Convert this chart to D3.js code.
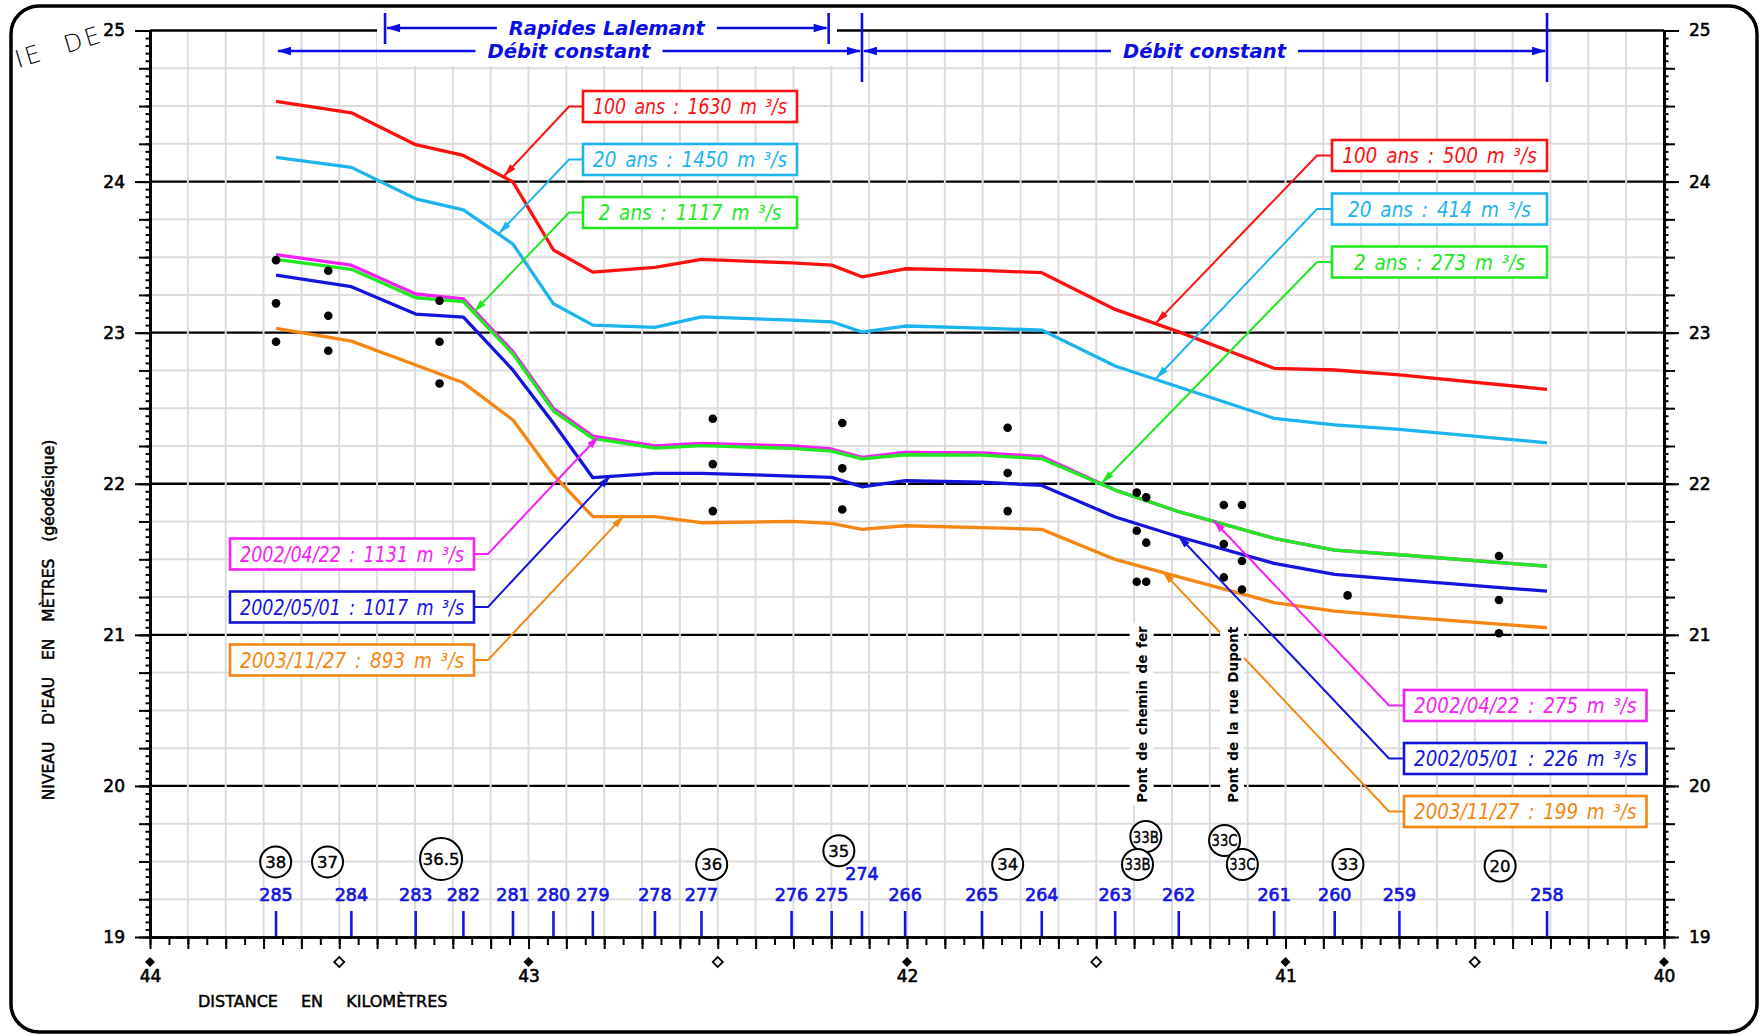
<!DOCTYPE html>
<html><head><meta charset="utf-8">
<script src="https://cdn.jsdelivr.net/npm/d3@7"></script>
<style>
html,body{margin:0;padding:0;background:#fff;}
svg{display:block;}
</style></head><body>
<svg id="c" width="1764" height="1036"></svg>
<script>
// ---------------- DATA ----------------
const sectionIds = [285,284,283,282,281,280,279,278,277,276,275,274,266,265,264,263,262,261,260,259,258];
const sectionKm  = [43.667,43.468,43.298,43.172,43.041,42.934,42.830,42.666,42.543,42.305,42.199,42.119,42.005,41.802,41.644,41.450,41.282,41.030,40.870,40.699,40.309];
const raisedSectionLabels = [274];

const level100ans = [24.531,24.455,24.244,24.173,23.997,23.547,23.401,23.432,23.485,23.462,23.447,23.370,23.423,23.412,23.397,23.154,23.005,22.764,22.753,22.720,22.625];
const level20ans  = [24.160,24.094,23.886,23.813,23.586,23.191,23.050,23.035,23.105,23.083,23.072,23.004,23.044,23.030,23.017,22.779,22.640,22.433,22.390,22.360,22.271];
const level2ans   = [23.485,23.419,23.231,23.205,22.858,22.481,22.300,22.236,22.252,22.234,22.216,22.165,22.192,22.190,22.165,21.958,21.815,21.639,21.561,21.530,21.454];
const level20020422 = [23.516,23.447,23.256,23.224,22.874,22.499,22.316,22.250,22.267,22.250,22.230,22.175,22.208,22.205,22.180,21.958,21.815,21.639,21.561,21.530,21.454];
const level20020501 = [23.381,23.304,23.123,23.103,22.752,22.400,22.040,22.069,22.069,22.051,22.042,21.980,22.020,22.010,21.989,21.780,21.649,21.473,21.400,21.365,21.289];
const level20031127 = [23.028,22.944,22.786,22.668,22.422,22.058,21.782,21.782,21.742,21.751,21.738,21.698,21.722,21.710,21.698,21.499,21.384,21.213,21.157,21.120,21.047];

const seriesNames = ["100 ans","20 ans","2 ans","2002/04/22","2002/05/01","2003/11/27"];
const labelsUpstream   = ["100 ans : 1630 m ³/s","20 ans : 1450 m ³/s","2 ans : 1117 m ³/s"];
const labelsDownstream = ["100 ans : 500 m ³/s","20 ans : 414 m ³/s","2 ans : 273 m ³/s"];
const labelsObsUp      = ["2002/04/22 : 1131 m ³/s","2002/05/01 : 1017 m ³/s","2003/11/27 : 893 m ³/s"];
const labelsObsDown    = ["2002/04/22 : 275 m ³/s","2002/05/01 : 226 m ³/s","2003/11/27 : 199 m ³/s"];

const obsKm = [43.667,43.529,43.235,42.513,42.171,41.734,41.393,41.368,41.163,41.115,40.836,40.436];
const obsLevels = [[23.480,23.194,22.940],[23.410,23.112,22.880],[23.211,22.940,22.664],[22.430,22.130,21.819],[22.402,22.102,21.830],[22.371,22.071,21.819],[21.941,21.689,21.351],[21.910,21.610,21.351],[21.859,21.601,21.380],[21.859,21.489,21.300],[21.261],[21.522,21.231,21.010]];

const stationLabels = ["38","37","36.5","36","35","34","33B","33B","33C","33C","33","20"];
const stationKm     = [43.668,43.531,43.231,42.516,42.180,41.734,41.369,41.391,41.161,41.114,40.835,40.433];
const stationLevel  = [19.497,19.497,19.516,19.480,19.571,19.480,19.665,19.480,19.639,19.480,19.480,19.470];

const bridgeNames = ["Pont de chemin de fer","Pont de la rue Dupont"];
const bridgeKm    = [41.380,41.141];
const bridgeBase  = 19.889;

const kmTicksMajor = [44,43,42,41,40];
const kmTicksHalf  = [43.5,42.5,41.5,40.5];
const levelTicks   = [19,20,21,22,23,24,25];

const rapidesKm = [43.379,42.207];
const constantReachKm = [43.667,42.119,40.309];

// ---------------- LAYOUT ----------------
const W=1764,H=1036;
const x = d3.scaleLinear().domain([44,40]).range([150,1664]);
const y = d3.scaleLinear().domain([19,25]).range([937,30.5]);
const colors = ["#ff1010","#1cb4ee","#22e822","#f520f5","#1414dc","#f58612"];
const annBlue = "#0c0ce6";
const FONT = "'DejaVu Sans', sans-serif";
const NARROW = "'Liberation Sans Narrow','DejaVu Sans Condensed','Roboto',sans-serif";

const series = seriesNames.map((n,i)=>({name:n,color:colors[i],values:[level100ans,level20ans,level2ans,level20020422,level20020501,level20031127][i]}));

function levelAt(vals, km){
  for(let i=0;i<sectionKm.length-1;i++){
    const a=sectionKm[i], b=sectionKm[i+1];
    if(km<=a && km>=b){ const t=(a-km)/(a-b); return vals[i]+(vals[i+1]-vals[i])*t; }
  }
  return vals[0];
}

const svg = d3.select("#c");
svg.append("rect").attr("width",W).attr("height",H).attr("fill","#fff");

// grid
const gGrid = svg.append("g");
const hGrid = d3.range(19*4+1, 25*4).map(i=>i/4).filter(v=>v%1!==0);
gGrid.selectAll("line.h").data(hGrid).join("line")
  .attr("x1",x(44)).attr("x2",x(40)).attr("y1",d=>y(d)).attr("y2",d=>y(d))
  .attr("stroke","#dcdcdc").attr("stroke-width",2);
gGrid.selectAll("line.m").data([20,21,22,23,24]).join("line")
  .attr("x1",x(44)).attr("x2",x(40)).attr("y1",d=>y(d)).attr("y2",d=>y(d))
  .attr("stroke","#000").attr("stroke-width",2.4);
const vGrid = d3.range(1,40).map(i=>40+i/10);
gGrid.selectAll("line.v").data(vGrid).join("line")
  .attr("x1",d=>x(d)).attr("x2",d=>x(d)).attr("y1",y(25)+1.5).attr("y2",y(19)-1.5)
  .attr("stroke","#dcdcdc").attr("stroke-width",2);

// masks at top (behind annotations)
svg.append("rect").attr("x",377).attr("y",22).attr("width",460).attr("height",44).attr("fill","#fff");
svg.append("rect").attr("x",1114).attr("y",32).attr("width",182).attr("height",34).attr("fill","#fff");

// top line (y=25) outside mask
svg.append("line").attr("x1",x(44)).attr("x2",377).attr("y1",y(25)).attr("y2",y(25)).attr("stroke","#000").attr("stroke-width",2.4);
svg.append("line").attr("x1",837).attr("x2",x(40)).attr("y1",y(25)).attr("y2",y(25)).attr("stroke","#000").attr("stroke-width",2.4);

// axes
function styleAxis(g){ g.select(".domain").attr("stroke","#000").attr("stroke-width",2.6); g.selectAll(".tick line").attr("stroke","#000").attr("stroke-width",2); }
const yMinor = d3.range(19*20,25*20+1).map(i=>i/20);
const yQuarter = d3.range(19*4,25*4+1).map(i=>i/4);
[[d3.axisLeft, x(44)],[d3.axisRight, x(40)]].forEach(([fn,xp])=>{
  svg.append("g").attr("transform",`translate(${xp},0)`).call(fn(y).tickValues(yMinor).tickSize(4.5).tickSizeOuter(0).tickFormat("")).call(styleAxis);
  svg.append("g").attr("transform",`translate(${xp},0)`).call(fn(y).tickValues(yQuarter).tickSize(11).tickSizeOuter(0).tickFormat("")).call(styleAxis);
  const g=svg.append("g").attr("transform",`translate(${xp},0)`).call(fn(y).tickValues(levelTicks).tickSize(15).tickSizeOuter(0).tickPadding(10).tickFormat(d3.format("d"))).call(styleAxis);
  g.selectAll("text").attr("font-family",FONT).attr("font-size",17).attr("fill","#000").attr("stroke","#000").attr("stroke-width",0.6);
});
const xMinor = d3.range(0,81).map(i=>40+i/20);
const xTenth = d3.range(0,41).map(i=>40+i/10);
svg.append("g").attr("transform",`translate(0,${y(19)})`).call(d3.axisBottom(x).tickValues(xMinor).tickSize(8).tickSizeOuter(0).tickFormat("")).call(styleAxis);
svg.append("g").attr("transform",`translate(0,${y(19)})`).call(d3.axisBottom(x).tickValues(xTenth).tickSize(12).tickSizeOuter(0).tickFormat("")).call(styleAxis);
const xl = svg.append("g").attr("transform",`translate(0,${y(19)})`).call(d3.axisBottom(x).tickValues(kmTicksMajor).tickSize(0).tickPadding(33).tickFormat(d3.format("d")));
xl.select(".domain").remove();
xl.selectAll("text").attr("font-family",FONT).attr("font-size",17).attr("fill","#000").attr("stroke","#000").attr("stroke-width",0.6);
const diamond = d3.symbol().type(d3.symbolSquare).size(50);
svg.selectAll("path.dmaj").data(kmTicksMajor).join("path").attr("d",diamond)
  .attr("transform",d=>`translate(${x(d)},962) rotate(45)`).attr("fill","#000");
svg.selectAll("path.dhalf").data(kmTicksHalf).join("path").attr("d",diamond)
  .attr("transform",d=>`translate(${x(d)},962) rotate(45)`).attr("fill","#fff").attr("stroke","#000").attr("stroke-width",1.8);

svg.append("text").attr("x",198).attr("y",1007).attr("font-family",FONT).attr("font-size",16).attr("word-spacing",18)
  .attr("stroke","#000").attr("stroke-width",0.5).text("DISTANCE EN KILOMÈTRES");
svg.append("text").attr("transform","translate(54,620) rotate(-90)").attr("text-anchor","middle").attr("font-family",FONT)
  .attr("font-size",15.5).attr("word-spacing",12).attr("stroke","#000").attr("stroke-width",0.5).text("NIVEAU D'EAU EN MÈTRES (géodésique)");

// section ticks
const gSec = svg.append("g");
gSec.selectAll("line").data(sectionKm).join("line")
  .attr("x1",d=>x(d)).attr("x2",d=>x(d)).attr("y1",911).attr("y2",y(19)-1).attr("stroke","#1515e0").attr("stroke-width",2.6);
gSec.selectAll("text").data(sectionIds).join("text")
  .attr("x",(d,i)=>x(sectionKm[i])).attr("y",d=>raisedSectionLabels.includes(d)?880:901)
  .attr("text-anchor","middle").attr("font-family",FONT).attr("font-size",17.5).attr("fill","#1515e0")
  .attr("stroke","#1515e0").attr("stroke-width",0.7).text(d=>d);

// station circles
const gSt = svg.append("g");
stationLabels.forEach((lab,i)=>{
  const cx=x(stationKm[i]), cy=y(stationLevel[i]);
  const r = lab.length>3 ? 21 : 15.5;
  gSt.append("circle").attr("cx",cx).attr("cy",cy).attr("r",r).attr("fill","#fff").attr("stroke","#000").attr("stroke-width",2);
  const t=gSt.append("text").attr("x",cx).attr("y",cy+6).attr("text-anchor","middle").attr("font-family",FONT)
    .attr("font-size",16.5).attr("fill","#000").attr("stroke","#000").attr("stroke-width",0.4).text(lab);
  const w=t.node().getComputedTextLength();
  if(w>2*r-5){ t.attr("textLength",2*r-5).attr("lengthAdjust","spacingAndGlyphs"); }
});

// series lines
const line = d3.line().x((d,i)=>x(sectionKm[i])).y(d=>y(d));
const drawOrder=[0,1,3,2,4,5];
drawOrder.forEach(si=>{
  svg.append("path").attr("d",line(series[si].values)).attr("fill","none")
    .attr("stroke",series[si].color).attr("stroke-width",3.3).attr("stroke-linejoin","round");
});

// observed dots
const dots=[]; obsKm.forEach((k,i)=>obsLevels[i].forEach(v=>dots.push([k,v])));
svg.selectAll("circle.obs").data(dots).join("circle").attr("cx",d=>x(d[0])).attr("cy",d=>y(d[1])).attr("r",4.3).attr("fill","#000");

// arrowhead helper
function arrowHead(g, p, t, color, L=13, hw=3.6){
  const dx=t[0]-p[0], dy=t[1]-p[1], len=Math.hypot(dx,dy); const ux=dx/len, uy=dy/len;
  const bx=t[0]-ux*L, by=t[1]-uy*L; const nx=-uy, ny=ux;
  g.append("path").attr("d",`M${t[0]},${t[1]}L${bx+nx*hw},${by+ny*hw}L${bx-nx*hw},${by-ny*hw}Z`).attr("fill",color);
}

// leader annotations
const annLayout = [
  {idx:[0,1,2], texts:labelsUpstream,   tips:[43.065,43.078,43.144], bx:583,  bw:214,   tops:[91,144,197],      side:"left",  ex:569},
  {idx:[0,1,2], texts:labelsDownstream, tips:[41.342,41.342,41.486], bx:1332, bw:215,   tops:[140,193.5,246.5], side:"left",  ex:1317},
  {idx:[3,4,5], texts:labelsObsUp,      tips:[42.814,42.783,42.748], bx:230,  bw:244,   tops:[538.5,591.5,644.5], side:"right", ex:488},
  {idx:[3,4,5], texts:labelsObsDown,    tips:[41.191,41.284,41.325], bx:1404, bw:242.5, tops:[690,743,796],     side:"left",  ex:1389}
];
const gAnn = svg.append("g");
annLayout.forEach(g=>{
  g.idx.forEach((si,k)=>{
    const s=series[si], top=g.tops[k], h=31, my=top+h/2;
    const edge = g.side==="left"?g.bx:g.bx+g.bw;
    const tip=[x(g.tips[k]), y(levelAt(s.values,g.tips[k]))-1];
    gAnn.append("polyline").attr("points",`${edge},${my} ${g.ex},${my} ${tip[0]},${tip[1]}`)
      .attr("fill","none").attr("stroke",s.color).attr("stroke-width",2);
    arrowHead(gAnn,[g.ex,my],tip,s.color);
    gAnn.append("rect").attr("x",g.bx).attr("y",top).attr("width",g.bw).attr("height",h)
      .attr("fill","#fff").attr("stroke",s.color).attr("stroke-width",2.6);
    const t=gAnn.append("text").attr("x",g.bx+g.bw/2).attr("y",my+7.5).attr("text-anchor","middle")
      .attr("font-family",NARROW).attr("font-style","italic").attr("font-size",20.5).attr("word-spacing",3)
      .attr("fill",s.color).text(g.texts[k]);
    const w=t.node().getComputedTextLength();
    const maxW=g.bw-20;
    if(w>maxW){ t.attr("textLength",maxW).attr("lengthAdjust","spacingAndGlyphs"); }
  });
});

// bridges (vertical text with white background)
bridgeNames.forEach((n,i)=>{
  const bx=x(bridgeKm[i]), by=y(bridgeBase);
  const g=svg.append("g").attr("transform",`translate(${bx},${by}) rotate(-90)`);
  const t=g.append("text").attr("x",0).attr("y",5.5).attr("font-family",FONT).attr("font-weight","bold").attr("font-size",13.5).attr("word-spacing",2).attr("fill","#000").text(n);
  const w=t.node().getComputedTextLength();
  g.insert("rect","text").attr("x",-3).attr("y",-12).attr("width",w+6).attr("height",24).attr("fill","#fff");
});

// top annotations
const gTop = svg.append("g");
function bar(km,y1,y2){ gTop.append("line").attr("x1",x(km)).attr("x2",x(km)).attr("y1",y1).attr("y2",y2).attr("stroke",annBlue).attr("stroke-width",2.6); }
function spanLabel(k1,k2,yy,label,tw){
  const x1=x(k1), x2=x(k2), cx=(x1+x2)/2;
  gTop.append("text").attr("x",cx).attr("y",yy+7).attr("text-anchor","middle").attr("font-family",FONT)
    .attr("font-weight","bold").attr("font-style","italic").attr("font-size",19.5).attr("fill",annBlue)
    .attr("textLength",tw).attr("lengthAdjust","spacingAndGlyphs").text(label);
  const lEnd=cx-tw/2-12, rStart=cx+tw/2+12;
  gTop.append("line").attr("x1",lEnd).attr("x2",x1+2).attr("y1",yy).attr("y2",yy).attr("stroke",annBlue).attr("stroke-width",2.4);
  gTop.append("line").attr("x1",rStart).attr("x2",x2-2).attr("y1",yy).attr("y2",yy).attr("stroke",annBlue).attr("stroke-width",2.4);
  arrowHead(gTop,[lEnd,yy],[x1+1,yy],annBlue,14,4.3);
  arrowHead(gTop,[rStart,yy],[x2-1,yy],annBlue,14,4.3);
}
bar(rapidesKm[0],13,44); bar(rapidesKm[1],13,44);
bar(constantReachKm[1],13,82); bar(constantReachKm[2],13,82);
spanLabel(rapidesKm[0],rapidesKm[1],28,"Rapides Lalemant",196);
spanLabel(constantReachKm[0],constantReachKm[1],51,"Débit constant",163);
spanLabel(constantReachKm[1],constantReachKm[2],51,"Débit constant",163);

// frame
svg.append("rect").attr("x",11).attr("y",6).attr("width",1746).attr("height",1026).attr("rx",28)
  .attr("fill","none").attr("stroke","#000").attr("stroke-width",3.5);
svg.append("text").attr("transform","translate(18,68) rotate(-17)").attr("font-family",FONT).attr("font-weight",200)
  .attr("font-size",24).attr("letter-spacing",3).attr("word-spacing",12).attr("fill","#000").text("IE DE");
</script>
</body></html>
